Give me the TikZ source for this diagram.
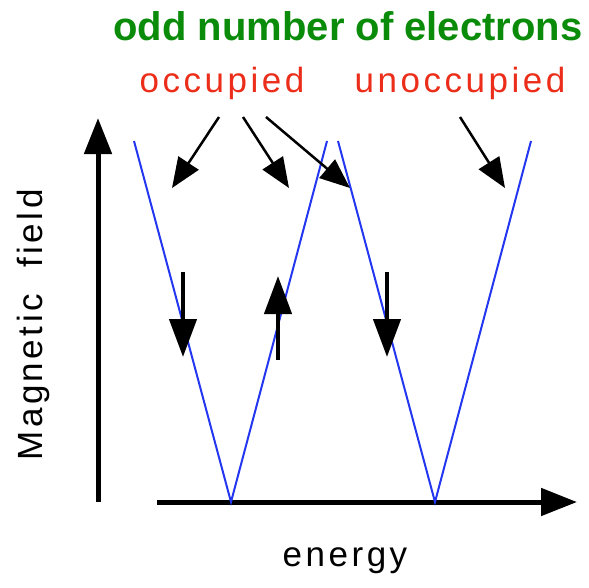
\documentclass[tikz,border=0pt]{standalone}
\usepackage{fontspec}
\setmainfont{Liberation Sans}
\newfontfamily\spacedfont[LetterSpace=10]{Liberation Sans}
\usetikzlibrary{arrows.meta}

\definecolor{titlegreen}{RGB}{10,140,10}
\definecolor{labelred}{RGB}{235,45,25}
\definecolor{levelblue}{RGB}{35,55,240}

\begin{document}
\begin{tikzpicture}[
  x=1pt, y=-1pt,
  axis/.style={-{Triangle[length=36pt,width=27pt]}, line width=5pt},
  pointer/.style={-{Triangle[length=30pt,width=24pt]}, line width=2.5pt},
  spin/.style={-{Triangle[length=38pt,width=27pt]}, line width=4.5pt},
  level/.style={levelblue, line width=2pt},
  label/.style={font=\spacedfont\fontsize{35}{40}\selectfont, inner sep=0pt}
]
  \useasboundingbox (0,0) rectangle (589,587);

  % texts
  \node[font=\bfseries\fontsize{40}{44}\selectfont, text=titlegreen, inner sep=0pt, anchor=base] (title) at (348,40) {odd number of electrons};
  \node[label, text=labelred, anchor=base] (occ) at (222,92) {occupied};
  \node[label, text=labelred, anchor=base] (unocc) at (460,92) {unoccupied};
  \node[label, rotate=90, anchor=base] (field) at (42,325) {Magnetic\ \ field};
  \node[label, anchor=base] (energy) at (345,566) {energy};

  % axes
  \coordinate (origin) at (98,502);
  \coordinate (ytop) at (98,118);
  \coordinate (xstart) at (157,502);
  \coordinate (xend) at (577,502);
  \draw[axis] (origin) -- (ytop);
  \draw[axis] (xstart) -- (xend);

  % Zeeman levels
  \coordinate (v1) at (231,502);
  \coordinate (v2) at (435,502);
  \draw[level] (134,141) -- (v1) -- (327,141);
  \draw[level] (338,141) -- (v2) -- (531,141);

  % pointers from labels
  \coordinate (p1) at (219,117); \coordinate (q1) at (172,188);
  \coordinate (p2) at (243,117); \coordinate (q2) at (289,188);
  \coordinate (p3) at (266,117); \coordinate (q3) at (350,188);
  \coordinate (p4) at (460,117); \coordinate (q4) at (505,188);
  \foreach \i in {1,...,4}
    \draw[pointer] (p\i) -- (q\i);

  % spins
  \coordinate (s1) at (183,272); \coordinate (t1) at (183,357);
  \coordinate (s2) at (278,360); \coordinate (t2) at (278,276);
  \coordinate (s3) at (387,272); \coordinate (t3) at (387,357);
  \foreach \i in {1,2,3}
    \draw[spin] (s\i) -- (t\i);
\end{tikzpicture}
\end{document}
